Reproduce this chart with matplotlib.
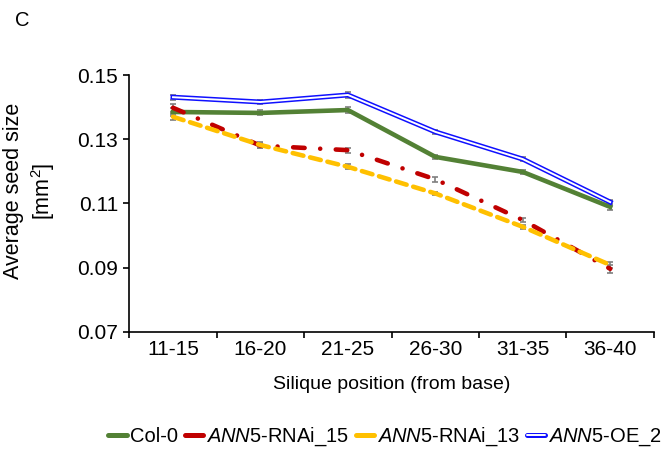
import matplotlib
matplotlib.use("Agg")
import matplotlib.pyplot as plt
import matplotlib.patheffects as pe
from matplotlib.lines import Line2D
import numpy as np

plt.rcParams["font.family"] = ["Liberation Sans", "DejaVu Sans"]
plt.rcParams["mathtext.fontset"] = "custom"
plt.rcParams["mathtext.rm"] = "Liberation Sans"
plt.rcParams["mathtext.it"] = "Liberation Sans:italic"

positions = ["11-15", "16-20", "21-25", "26-30", "31-35", "36-40"]
col0 = [0.1385, 0.1382, 0.1391, 0.1245, 0.1198, 0.1089]
rnai_15 = [0.1398, 0.1280, 0.1266, 0.1175, 0.1048, 0.0896]
rnai_13 = [0.1370, 0.1282, 0.1214, 0.1131, 0.1027, 0.0908]
oe_2 = [0.1431, 0.1416, 0.1438, 0.1323, 0.1238, 0.1104]
col0_err = [0.0012, 0.0008, 0.0008, 0.0006, 0.0006, 0.0010]
rnai_15_err = [0.0012, 0.0008, 0.0008, 0.0008, 0.0006, 0.0012]
rnai_13_err = [0.0010, 0.0008, 0.0008, 0.0006, 0.0006, 0.0010]
oe_2_err = [0.0008, 0.0006, 0.0010, 0.0006, 0.0006, 0.0008]

fig = plt.figure(figsize=(6.7, 4.55), dpi=100)
ax = fig.add_axes([0.193, 0.271, 0.783, 0.564])
x = np.arange(len(positions))

blue_fx = [pe.Stroke(linewidth=3.6, foreground="#1010ff"),
           pe.Stroke(linewidth=1.4, foreground="white")]
series = [
    (col0, col0_err, "#538135", dict(lw=3.3, ls="-"), "Col-0"),
    (rnai_15, rnai_15_err, "#c00000",
     dict(lw=3.3, dashes=(2.5, 3.4, 0.01, 3.4), dash_capstyle="round"),
     r"$\it{ANN5}$-RNAi_15"),
    (rnai_13, rnai_13_err, "#ffc000",
     dict(lw=3.3, dashes=(2.4, 1.5), dash_capstyle="round"),
     r"$\it{ANN5}$-RNAi_13"),
    (oe_2, oe_2_err, "#1010ff", dict(lw=3.6, ls="-", path_effects=blue_fx),
     r"$\it{ANN5}$-OE_2"),
]

handles = []
for vals, err, color, style, label in series:
    ax.errorbar(x, vals, yerr=err, fmt="none", ecolor="#7f7f7f", elinewidth=1.2,
                capsize=2.5, capthick=1.2, zorder=2)
    ax.plot(x, vals, color=color, zorder=3, **style)
    # legend keys are short solid strokes
    key = dict(color=color, lw=3.6, ls="-", solid_capstyle="round")
    if color == "#1010ff":
        key["path_effects"] = blue_fx
    handles.append(Line2D([], [], label=label, **key))

ax.set_xlim(-0.5, 5.5)
ax.set_ylim(0.07, 0.15)
ax.set_yticks([0.07, 0.09, 0.11, 0.13, 0.15])
ax.set_yticklabels(["0.07", "0.09", "0.11", "0.13", "0.15"], fontsize=15)
ax.set_xticks(x)
ax.set_xticklabels(positions, fontsize=15)
ax.set_xticks(np.arange(-0.5, 6.0, 1.0), minor=True)
ax.tick_params(axis="x", which="major", length=0, pad=6)
ax.tick_params(axis="x", which="minor", length=4, width=1.2, direction="out")
ax.tick_params(axis="y", length=4, width=1.2, direction="out", pad=4)
for side in ["top", "right"]:
    ax.spines[side].set_visible(False)
for side in ["left", "bottom"]:
    ax.spines[side].set_linewidth(1.2)

ax.set_xlabel("Silique position (from base)", fontsize=14, labelpad=12)
fig.text(0.045, 0.58, "Average seed size\n[mm$^2$]", rotation=90, ha="center", va="center",
         fontsize=15.5, linespacing=1.25)
fig.text(0.022, 0.955, "C", fontsize=14.5, ha="left", va="center")

fig.legend(handles=handles, loc="center", bbox_to_anchor=(0.575, 0.04), ncol=4, frameon=False,
           fontsize=14.5, handlelength=0.9, handletextpad=0.15, columnspacing=0.35,
           borderaxespad=0)

fig.savefig("out.png", dpi=100)
